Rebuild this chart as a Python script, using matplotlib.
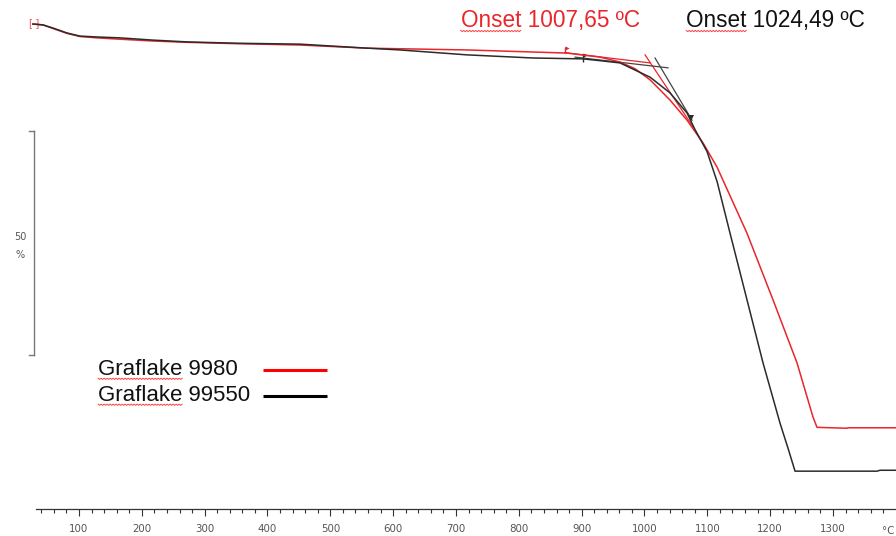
import numpy as np
import matplotlib
matplotlib.use("Agg")
import matplotlib.pyplot as plt
from matplotlib.lines import Line2D
from matplotlib.transforms import IdentityTransform

# ---------------- data ----------------
temp_black = [26.8, 42.7, 58.6, 80.9, 101.6, 128.7, 165.3, 217.8, 271.9, 351.5, 451.8,
              558.4, 611.0, 717.5, 822.6, 902.2, 929.3, 961.1, 1009.0, 1040.6, 1067.7,
              1080.0, 1099.5, 1115.5, 1136.2, 1163.2, 1188.7, 1215.8, 1228.5, 1239.6,
              1370.0, 1375.0, 1400.4]
mass_black = [100.0, 99.8, 99.1, 98.0, 97.3, 97.1, 96.9, 96.4, 96.0, 95.7, 95.5,
              94.6, 94.2, 93.1, 92.4, 92.2, 91.8, 91.3, 88.1, 84.6, 80.1,
              76.5, 71.5, 64.8, 53.2, 38.3, 24.2, 10.7, 5.1, 0.0,
              0.0, 0.2, 0.2]

temp_red = [26.8, 42.7, 58.6, 80.9, 101.6, 128.7, 165.3, 217.8, 271.9, 351.5, 451.8,
            558.4, 717.5, 876.7, 929.3, 961.1, 985.0, 1009.0, 1040.6, 1067.7, 1093.2,
            1115.5, 1163.2, 1204.6, 1242.8, 1268.2, 1274.6, 1322.4, 1324.0, 1400.4]
mass_red = [100.0, 99.8, 99.0, 97.9, 97.2, 96.9, 96.6, 96.2, 95.9, 95.6, 95.3,
            94.6, 94.2, 93.5, 92.6, 91.5, 90.0, 87.5, 83.0, 78.5, 73.4,
            68.0, 53.2, 38.3, 24.2, 12.1, 9.8, 9.6, 9.7, 9.7]

# onset construction (tangent lines)
red_base_T, red_base_W = [873.0, 1009.0], [93.6, 91.3]
red_steep_T, red_steep_W = [1000.9, 1077.3], [93.1, 77.0]
black_base_T, black_base_W = [889.5, 1037.5], [92.6, 90.2]
black_steep_T, black_steep_W = [1016.8, 1075.7], [92.4, 78.5]

onset_labels = ["Onset 1007,65 ºC", "Onset 1024,49 ºC"]
series_names = ["Graflake 9980", "Graflake 99550"]

x_major = list(range(100, 1400, 100))
x_minor = list(range(40, 1400, 20))
scale_top, scale_len = 76.0, 50.0

RED = "#e8262b"
BLACK = "#2b2b2b"
GRAY = "#555555"

plt.rcParams['font.family'] = ['Liberation Sans', 'DejaVu Sans']

fig = plt.figure(figsize=(8.96, 5.36), dpi=100)
ax = fig.add_axes([0, 0, 1, 1])
ax.set_xlim(-25.7, 1400.3)
ax.set_ylim(-14.5, 105.37)
ax.patch.set_alpha(0)

# curves
ax.plot(temp_red, mass_red, color=RED, lw=1.1, zorder=3)
ax.plot(temp_black, mass_black, color=BLACK, lw=1.1, zorder=4)

# tangents
ax.plot(red_base_T, red_base_W, color=RED, lw=0.9)
ax.plot(red_steep_T, red_steep_W, color=RED, lw=0.9)
ax.plot(black_base_T, black_base_W, color="#444444", lw=0.9)
ax.plot(black_steep_T, black_steep_W, color="#444444", lw=0.9)

# evaluation markers
ax.plot([red_base_T[0]], [red_base_W[0] + 0.6], marker='|', color=RED, ms=5, mew=1)
ax.plot([red_base_T[0] + 3], [red_base_W[0] + 1.0], marker='>', color=RED, ms=3, mew=0)
ax.plot([black_base_T[0] + 13], [black_base_W[0] - 0.2], marker='|', color=BLACK, ms=6, mew=1)
ax.plot([black_base_T[0] + 16], [black_base_W[0] + 0.4], marker='>', color=BLACK, ms=3, mew=0)
ax.plot([black_steep_T[1] - 1.5], [black_steep_W[1] + 0.5], marker='v', color=BLACK, ms=4, mew=0)

# start marker
ax.text(temp_red[0] + 2, mass_red[0] + 0.1, "[-]", color=RED, fontsize=7,
        ha='center', va='center', family='DejaVu Sans', alpha=0.8)

# x axis
for s in ['left', 'right', 'top']:
    ax.spines[s].set_visible(False)
ax.spines['bottom'].set_position(('data', -8.5))
ax.spines['bottom'].set_bounds(31.6, 1400.3)
ax.spines['bottom'].set_color('#333333')
ax.spines['bottom'].set_linewidth(0.9)
ax.set_xticks(x_major)
ax.set_xticks(x_minor, minor=True)
ax.tick_params(axis='x', which='major', direction='out', length=5, width=0.8,
               color='#333333', labelcolor=GRAY, labelsize=7.4, pad=5.5)
ax.tick_params(axis='x', which='minor', direction='out', length=3, width=0.8,
               color='#333333')
for lab in ax.get_xticklabels():
    lab.set_family('DejaVu Sans')
ax.set_yticks([])
ax.text(1398, -12.3, "°C", color=GRAY, fontsize=7.4,
        ha='right', va='top', family='DejaVu Sans')

# y scale bar
bx = 29.2
ax.plot([bx, bx], [scale_top, scale_top - scale_len], color='#777777', lw=1, clip_on=False)
ax.plot([bx - 8, bx], [scale_top, scale_top], color='#777777', lw=1)
ax.plot([bx - 8, bx], [scale_top - scale_len, scale_top - scale_len], color='#777777', lw=1)
ax.text(6.5, scale_top - scale_len / 2 + 1.4, "50", color=GRAY, fontsize=7,
        ha='center', va='center', family='DejaVu Sans')
ax.text(6.5, scale_top - scale_len / 2 - 2.6, "%", color=GRAY, fontsize=7,
        ha='center', va='center', family='DejaVu Sans')

# onset labels
t1 = ax.text(707.5, 100.8, onset_labels[0], color=RED, fontsize=16.3, ha='left', va='center')
t2 = ax.text(1066.5, 100.8, onset_labels[1], color='#111111', fontsize=16.3, ha='left', va='center')

# legend
l1 = ax.text(130.5, 22.8, series_names[0], color='#111111', fontsize=16.0, ha='left', va='center')
l2 = ax.text(130.5, 17.0, series_names[1], color='#111111', fontsize=16.0, ha='left', va='center')
ax.plot([393, 495], [22.7, 22.7], color='#ff0000', lw=2.2, solid_capstyle='butt')
ax.plot([393, 495], [16.9, 16.9], color='#000000', lw=2.2, solid_capstyle='butt')

# red spell-check squiggles under first word
fig.canvas.draw()
renderer = fig.canvas.get_renderer()

def squiggle(t):
    word = t.get_text().split()[0]
    tmp = ax.text(0, 0, word, fontsize=t.get_fontsize(), family=t.get_fontfamily())
    w = tmp.get_window_extent(renderer).width
    tmp.remove()
    bb = t.get_window_extent(renderer)
    xs = np.arange(bb.x0, bb.x0 + w, 1.5)
    ys = bb.y0 + 1.5 + np.where(np.arange(len(xs)) % 2 == 0, 0.0, -1.2)
    fig.add_artist(Line2D(xs, ys, transform=IdentityTransform(), color='#ff4040', lw=0.7))

for t in (t1, t2, l1, l2):
    squiggle(t)

fig.savefig("out.png", dpi=100)
